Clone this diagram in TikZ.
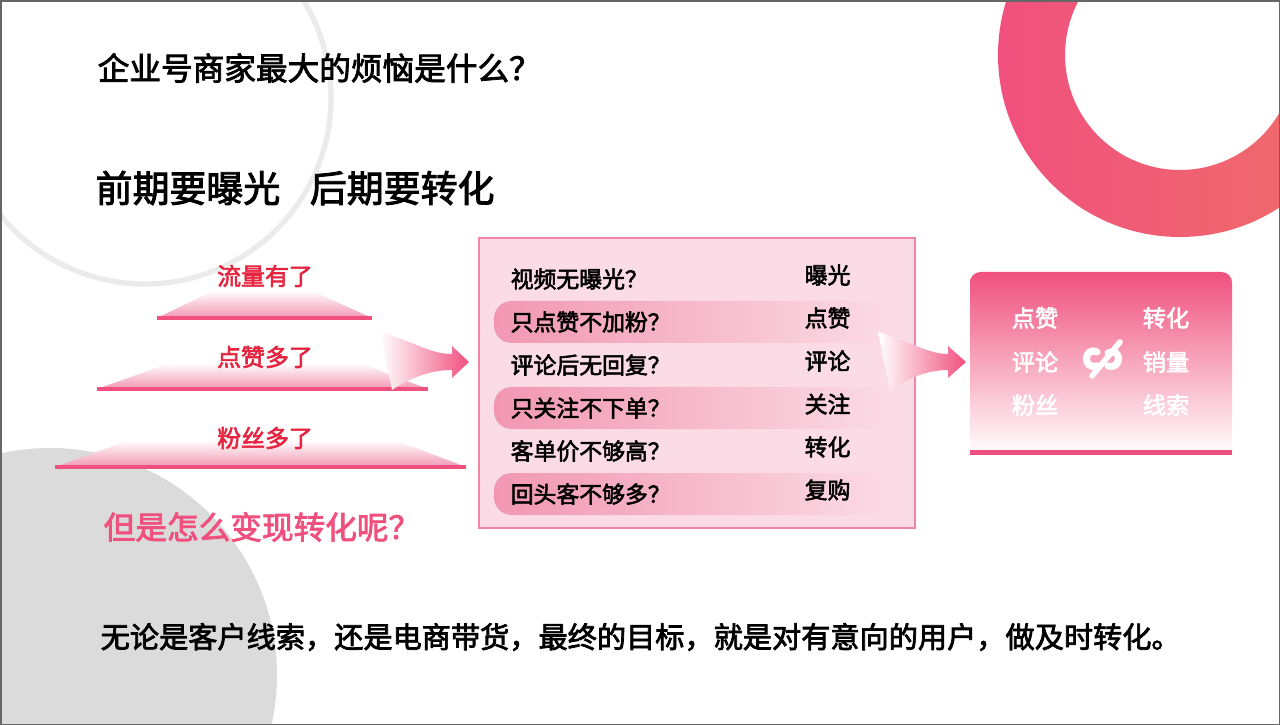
\documentclass[tikz,border=0pt]{standalone}
\usepackage{fontspec}
\setmainfont{Noto Sans CJK SC}[AutoFakeBold=2.5]
\usepackage{xcolor}
\usetikzlibrary{positioning,calc}
\definecolor{pinkmain}{HTML}{F0507E}
\definecolor{redlabel}{HTML}{E6243F}
\definecolor{boxfill}{HTML}{FBDCE6}
\definecolor{bandpink}{HTML}{F297B3}
\definecolor{coral}{HTML}{F07068}
\tikzset{
    title/.style={anchor=west, font=\fontsize{9}{10}\selectfont\bfseries, inner sep=0pt},
    bigtitle/.style={anchor=west, font=\fontsize{10.5}{12}\selectfont\bfseries, inner sep=0pt},
    levellabel/.style={font=\fontsize{6.8}{8}\selectfont\bfseries, text=redlabel, inner sep=0pt},
    rowtext/.style={anchor=west, font=\fontsize{6.5}{7}\selectfont\bfseries, inner sep=0pt},
    whitetext/.style={font=\fontsize{6.6}{7}\selectfont\bfseries, text=white, inner sep=0pt},
    baseline/.style={draw=pinkmain, line width=1.2pt},
    band/.style={left color=bandpink, right color=boxfill, rounded corners=5pt}
}
\begin{document}
\begin{tikzpicture}[x=0.01cm, y=-0.01cm]
    \useasboundingbox (0,0) rectangle (1280,725);
    \fill[white] (0,0) rectangle (1280,725);

    % Background decoration
    \draw[black!8, line width=1.5pt] (145,98) circle (186);
    \fill[black!14] (50,675) circle (227);
    \shade[left color=pinkmain, right color=coral, even odd rule]
        (1180,55) circle (182) (1180,55) circle (115);
    \fill[white] (0,0) rectangle (1280,2);
    \draw[black!60, line width=1pt] (0,0) -- (1280,0) (0,0) -- (0,725);
    \draw[black!60, line width=0.6pt] (0,725) -- (1280,725) (1280,0) -- (1280,725);

    % Titles
    \node[title] (question) at (97,68) {企业号商家最大的烦恼是什么？};
    \node[bigtitle] (slogan) at (95,188) {前期要曝光\hspace{0.8em}后期要转化};

    % Levels
    \shade[top color=white, bottom color=bandpink] (215,290) -- (310,290) -- (372,318) -- (157,318) -- cycle;
    \draw[baseline] (157,318) -- (372,318);
    \shade[top color=white, bottom color=bandpink] (170,363) -- (360,363) -- (428,389) -- (97,389) -- cycle;
    \draw[baseline] (97,389) -- (428,389);
    \shade[top color=white, bottom color=bandpink] (130,440) -- (395,440) -- (466,467) -- (55,467) -- cycle;
    \draw[baseline] (55,467) -- (466,467);
    \node[levellabel] (traffic) at (265,276) {流量有了};
    \node[levellabel] (likes) at (265,357) {点赞多了};
    \node[levellabel] (fans) at (265,438) {粉丝多了};

    % Problem box
    \node[draw=pinkmain!70, fill=boxfill, minimum width=4.36cm, minimum height=2.9cm, inner sep=0pt] (problems) at (697,383) {};
    \foreach \y in {322,408,494}
        \shade[band] (494,\y-21) rectangle (895,\y+21);
    \foreach \q/\k/\y in {视频无曝光？/曝光/279, 只点赞不加粉？/点赞/322, 评论后无回复？/评论/365, 只关注不下单？/关注/408, 客单价不够高？/转化/451, 回头客不够多？/复购/494} {
        \node[rowtext] (q\y) at (510,\y) {\q};
        \node[rowtext] (k\y) at (804,\y-4) {\k};
    }
    \node[levellabel, text=pinkmain, anchor=west, font=\fontsize{9}{10}\selectfont\bfseries] (how) at (103,527) {但是怎么变现转化呢？};

    % Arrows
    \shade[left color=white, right color=pinkmain]
        (380,332) .. controls (415,342) and (430,354) .. (452,354) -- (452,346) -- (469,362)
        -- (452,378) -- (452,370) .. controls (430,370) and (410,378) .. (392,390) -- cycle;
    \shade[left color=white, right color=pinkmain]
        (878,332) .. controls (912,342) and (928,354) .. (948,354) -- (948,346) -- (966,362)
        -- (948,378) -- (948,370) .. controls (928,370) and (908,378) .. (890,390) -- cycle;

    % Result box
    \shade[top color=pinkmain, bottom color=white, rounded corners=3pt] (970,272) rectangle (1232,455);
    \fill[pinkmain] (970,450) rectangle (1232,455);
    \foreach \a/\b/\y in {点赞/转化/318, 评论/销量/362, 粉丝/线索/405} {
        \node[whitetext] (l\y) at (1035,\y) {\a};
        \node[whitetext] (r\y) at (1166,\y) {\b};
    }
    \draw[white, line width=2pt, line cap=round] (1097,352) .. controls (1084,346) and (1082,370) .. (1097,366);
    \draw[white, line width=2pt, line cap=round] (1108,353) .. controls (1122,347) and (1122,370) .. (1108,366);
    \draw[white, line width=1.6pt, line cap=round] (1092,376) -- (1120,342);

    % Conclusion
    \node[title, font=\fontsize{8.3}{10}\selectfont\bfseries] (goal) at (100,637) {无论是客户线索，还是电商带货，最终的目标，就是对有意向的用户，做及时转化。};
\end{tikzpicture}
\end{document}
